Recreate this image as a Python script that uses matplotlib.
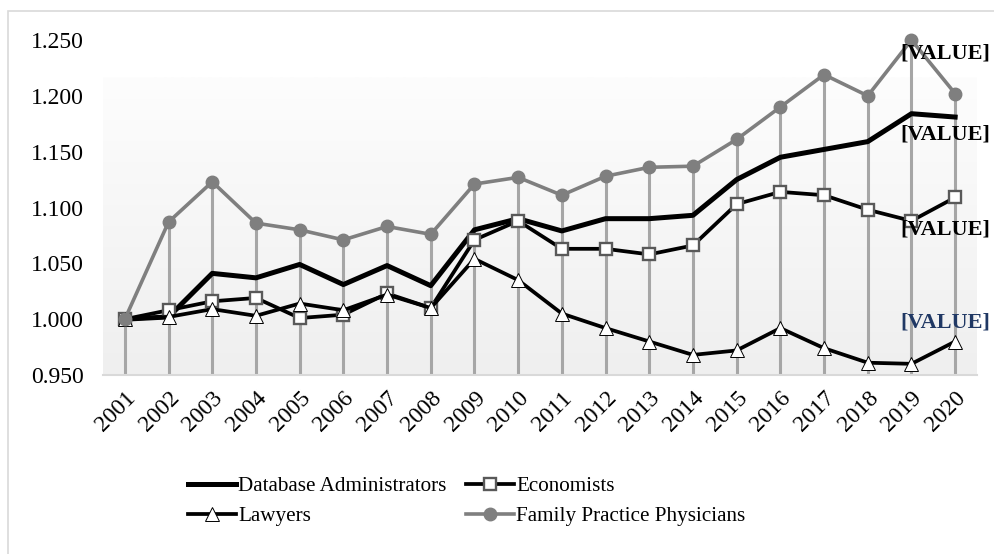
import numpy as np
import matplotlib
matplotlib.use("Agg")
import matplotlib.pyplot as plt
from matplotlib.patches import Rectangle
from matplotlib.colors import LinearSegmentedColormap

plt.rcParams['font.family'] = ['Liberation Serif', 'DejaVu Serif']

# Data
years = ["2001", "2002", "2003", "2004", "2005", "2006", "2007", "2008", "2009", "2010",
         "2011", "2012", "2013", "2014", "2015", "2016", "2017", "2018", "2019", "2020"]
db_admins = [1.000, 1.002, 1.041, 1.037, 1.049, 1.031, 1.048, 1.030, 1.080, 1.090,
             1.079, 1.090, 1.090, 1.093, 1.125, 1.145, 1.152, 1.159, 1.184, 1.181]
economists = [1.000, 1.008, 1.016, 1.019, 1.001, 1.004, 1.023, 1.010, 1.071, 1.088,
              1.063, 1.063, 1.058, 1.066, 1.103, 1.114, 1.111, 1.098, 1.088, 1.109]
lawyers = [1.000, 1.002, 1.009, 1.003, 1.014, 1.008, 1.022, 1.010, 1.054, 1.035,
           1.005, 0.992, 0.980, 0.968, 0.972, 0.992, 0.974, 0.961, 0.960, 0.980]
physicians = [1.000, 1.087, 1.123, 1.086, 1.080, 1.071, 1.083, 1.076, 1.121, 1.127,
              1.111, 1.128, 1.136, 1.137, 1.161, 1.190, 1.219, 1.200, 1.250, 1.202]

# Data labels (placeholder text as in the original)
label_texts = ["[VALUE]", "[VALUE]", "[VALUE]", "[VALUE]"]
label_y = [1.2375, 1.165, 1.080, 0.997]
label_colors = ["black", "black", "black", "#203864"]

x = np.arange(len(years))

fig = plt.figure(figsize=(9.95, 5.54), dpi=100)
ax = fig.add_axes([103 / 995, 1 - 375 / 554, 874 / 995, 335 / 554])

# chart border
fig.patches.append(Rectangle((8 / 995, -0.1), 1.2, 1.1 - 11 / 554, transform=fig.transFigure,
                             fill=False, edgecolor="#d9d9d9", lw=1.2))

# plot area gradient fill
grad = np.linspace(0, 1, 256).reshape(-1, 1)
cmap = LinearSegmentedColormap.from_list("bg", ["#efefef", "#fdfdfd"])
ax.imshow(grad, extent=[-0.5, 19.5, 0.95, 1.216], origin="lower", aspect="auto",
          cmap=cmap, zorder=0)

# drop lines
ax.vlines(x, 0.95, physicians, colors="#a6a6a6", lw=2.2, zorder=1)

l_db, = ax.plot(x, db_admins, color="black", lw=3.6, label="Database Administrators", zorder=3)
l_ec, = ax.plot(x, economists, color="black", lw=2.7, marker="s", ms=8, mfc="white",
                mec="#595959", mew=1.7, label="Economists", zorder=4)
l_lw, = ax.plot(x, lawyers, color="black", lw=2.7, marker="^", ms=10, mfc="white",
                mec="black", mew=0.7, label="Lawyers", zorder=4)
l_ph, = ax.plot(x, physicians, color="#7f7f7f", lw=2.6, marker="o", ms=9, mfc="#7f7f7f",
                mec="#7f7f7f", label="Family Practice Physicians", zorder=5, clip_on=False)

for txt, yv, c in zip(label_texts, label_y, label_colors):
    ax.text(18.78, yv, txt, ha="center", va="center", fontsize=16, fontweight="bold",
            color=c, zorder=6, clip_on=False)

ax.set_xlim(-0.5, 19.5)
ax.set_ylim(0.95, 1.25)
ax.set_yticks(np.arange(0.95, 1.2501, 0.05))
ax.set_yticklabels([f"{v:.3f}" for v in np.arange(0.95, 1.2501, 0.05)])
ax.set_xticks(x)
ax.set_xticklabels(years, rotation=45, ha="right", rotation_mode="anchor")
ax.tick_params(axis="y", length=0, pad=14, labelsize=17)
ax.tick_params(axis="x", length=0, pad=9, labelsize=17)

for s in ["top", "right", "left"]:
    ax.spines[s].set_visible(False)
ax.spines["bottom"].set_color("#d9d9d9")
ax.spines["bottom"].set_linewidth(1.5)
ax.set_facecolor("white")

# order so rows read: DB, Economists / Lawyers, Physicians
fig.legend([l_db, l_lw, l_ec, l_ph],
           ["Database Administrators", "Lawyers", "Economists", "Family Practice Physicians"],
           loc="center", bbox_to_anchor=(0.469, 0.095), ncol=2, frameon=False,
           fontsize=15.2, handlelength=2.3, handletextpad=0.1, columnspacing=0.9,
           labelspacing=0.5)

fig.savefig("out.png", dpi=100)
